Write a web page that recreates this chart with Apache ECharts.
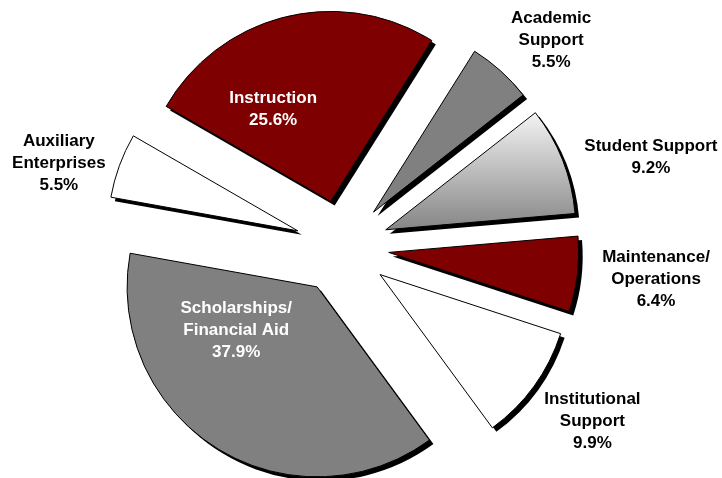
<!DOCTYPE html>
<html>
<head>
    <meta charset="utf-8"/>
    <title></title>
    <script src="https://cdn.jsdelivr.net/npm/echarts@6/dist/echarts.min.js"></script>
</head>
<body style="margin:0;background:#fff;">
<div id="chart" style="width:722px;height:478px;"></div>
<script type="text/javascript">

// budget shares, clockwise from Instruction
var categories = ['Instruction', 'Academic\nSupport', 'Student Support', 'Maintenance/\nOperations',
    'Institutional\nSupport', 'Scholarships/\nFinancial Aid', 'Auxiliary\nEnterprises'];
var values = [25.6, 5.5, 9.2, 6.4, 9.9, 37.9, 5.5];

var maroon = '#7f0000';
var grey = '#808080';
var fills = [
    maroon,
    grey,
    new echarts.graphic.LinearGradient(0, 0, 0, 1, [
        {offset: 0, color: '#f4f4f4'},
        {offset: 1, color: '#858585'}
    ]),
    maroon,
    '#ffffff',
    grey,
    '#ffffff'
];
var textColors = ['#ffffff', '#000', '#000', '#000', '#000', '#ffffff', '#000'];
var labelShift = [[-34, 3], [112, -99], [174, -37], [170, 16], [133, 89], [-29, -40], [-147, -34]];

var chart = echarts.init(document.getElementById('chart'));

function buildData(withColors) {
    var out = [];
    for (var i = 0; i < values.length; i++) {
        var c = withColors ? fills[i] : '#000';
        out.push({
            name: categories[i],
            value: values[i],
            selected: true,
            itemStyle: {color: c},
            select: {itemStyle: {color: c}},
            label: {color: textColors[i]}
        });
    }
    return out;
}

var pieBase = {
    type: 'pie',
    radius: [0, 190],
    startAngle: 150,
    clockwise: true,
    avoidLabelOverlap: false,
    selectedMode: 'multiple',
    selectedOffset: 47,
    labelLine: {show: false},
    emphasis: {disabled: true},
    silent: true
};

// drop shadow: same pie in black, nudged down-right
var shadowSeries = echarts.util.merge({
    center: [346, 251],
    itemStyle: {borderWidth: 0},
    select: {itemStyle: {borderWidth: 0}},
    label: {show: false},
    data: buildData(false)
}, pieBase);

var mainSeries = echarts.util.merge({
    center: [342, 247],
    itemStyle: {borderColor: '#000', borderWidth: 1},
    select: {itemStyle: {borderColor: '#000', borderWidth: 1}},
    label: {
        show: true,
        position: 'inside',
        fontFamily: 'Liberation Sans, Arial, sans-serif',
        fontSize: 17,
        fontWeight: 'bold',
        lineHeight: 22,
        align: 'center',
        formatter: function (p) {
            return p.name + '\n' + p.value.toFixed(1) + '%';
        }
    },
    labelLayout: function (p) {
        return {dx: labelShift[p.dataIndex][0], dy: labelShift[p.dataIndex][1]};
    },
    data: buildData(true)
}, pieBase);

chart.setOption({
    animation: false,
    series: [shadowSeries, mainSeries]
});

</script>
</body>
</html>
